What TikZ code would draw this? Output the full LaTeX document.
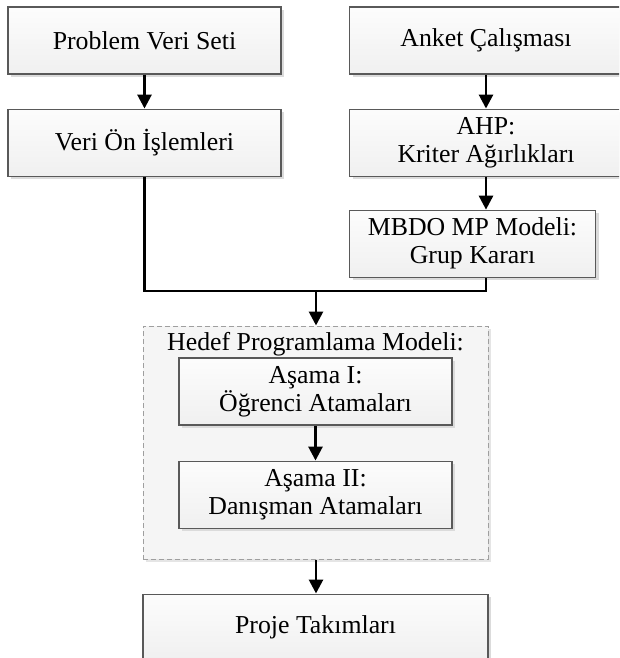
\documentclass[tikz,border=0pt]{standalone}
\usepackage{fontspec}
\setmainfont{Liberation Serif}
\usetikzlibrary{arrows.meta,positioning,shadows}

\begin{document}
\begin{tikzpicture}[x=1pt,y=-1pt,node distance=34pt]
\tikzstyle{blk}=[draw=black!65, line width=1.1pt, top color=gray!2, bottom color=gray!12,
  minimum width=273pt, minimum height=67pt, align=center, inner sep=0pt,
  font=\fontsize{25.8}{28}\selectfont,
  drop shadow={shadow xshift=3pt, shadow yshift=-3pt, fill=gray!28, opacity=1}]
\tikzstyle{grp}=[draw=gray!75, dash pattern=on 5pt off 3pt, line width=1pt, fill=gray!8,
  minimum width=345pt, minimum height=233pt, inner sep=0pt,
  drop shadow={shadow xshift=3pt, shadow yshift=-3pt, fill=gray!20, opacity=1}]
\tikzstyle{conn}=[-{Triangle[length=14pt,width=14pt]}, line width=2.8pt]
\useasboundingbox (0,0) rectangle (619,658);
\clip (0,0) rectangle (619,658);
% left column
\node[blk] (pvs) at (144.5,40.5) {Problem Veri Seti};
\node[blk, below=of pvs] (vo) {Veri Ön İşlemleri};
% right column
\node[blk] (anket) at (486,40.5) {Anket Çalışması};
\node[blk, below=of anket] (ahp) {AHP:\\Kriter Ağırlıkları};
\node[blk, minimum width=246pt, anchor=north west] (mbdo) at ([yshift=-33pt]ahp.south west)
  {MBDO MP Modeli:\\Grup Kararı};
% goal programming group
\node[grp] (hpm) at (315.5,442.5) {};
\node[font=\fontsize{25.8}{28}\selectfont, anchor=base] (hpmlbl) at (315.5,350)
  {Hedef Programlama Modeli:};
\node[blk] (a1) at (315.5,391.5) {Aşama I:\\Öğrenci Atamaları};
\node[blk, below=35pt of a1] (a2) {Aşama II:\\Danışman Atamaları};
\node[blk, minimum width=345pt, below=of hpm] (pt) {Proje Takımları};
% connectors
\coordinate (join) at (316,291);
\draw[conn] (pvs) -- (vo);
\draw[conn] (anket) -- (ahp);
\draw[conn] (ahp) -- (ahp |- mbdo.north);
\draw[line width=2.8pt] (vo.south) |- (join) -| (mbdo.south -| ahp.south);
\draw[conn] (join) -- (join |- hpm.north);
\draw[conn] (a1) -- (a2);
\draw[conn] (hpm.south -| join) -- (pt.north -| join);
\end{tikzpicture}
\end{document}
